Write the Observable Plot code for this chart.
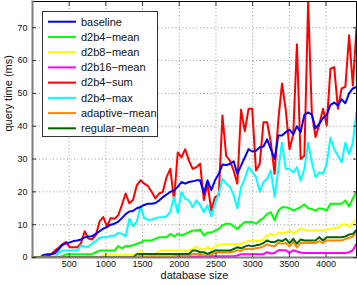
<!DOCTYPE html>
<html><head><meta charset="utf-8">
<script src="https://cdn.jsdelivr.net/npm/d3@7"></script>
<script src="https://cdn.jsdelivr.net/npm/@observablehq/plot@0.6"></script>
<style>html,body{margin:0;padding:0;background:#fff;}#chart{width:357px;height:285px;}</style>
</head><body><div id="chart"></div>
<script>
const sizes = [0,51,102,152,203,254,305,355,406,457,
508,558,609,660,711,761,812,863,914,964,
1015,1066,1117,1167,1218,1269,1320,1370,1421,1472,
1523,1573,1624,1675,1726,1776,1827,1878,1929,1979,
2030,2081,2132,2182,2233,2284,2335,2385,2436,2487,
2538,2588,2639,2690,2741,2791,2842,2893,2944,2994,
3045,3096,3147,3197,3248,3299,3350,3400,3451,3502,
3553,3603,3654,3705,3756,3806,3857,3908,3959,4009,
4060,4111,4162,4212,4263,4314,4365,4415];

const seriesNames = ["baseline","d2b4−mean","d2b8−mean","d2b16−mean","d2b4−sum","d2b4−max","adaptive−mean","regular−mean"];
const seriesColors = ["#0000ff","#00ff00","#ffff00","#ff00ff","#ff0000","#00ffff","#ff8800","#006400"];
const drawOrder = ["d2b4−sum","d2b4−max","baseline","d2b4−mean","d2b8−mean","d2b16−mean","adaptive−mean","regular−mean"];

const baseline = [0,0,0,0.8,1,1,1.3,2.5,3.8,4.3,
4.6,5,5.2,5.5,6.1,6.4,6.5,7.2,8,8.8,
9.3,10,10.3,10.9,12,13.2,14,14.2,15,15.4,
16,16.4,16.4,16.6,17.4,18.4,19.2,20,20.5,21.5,
23,22.5,23,23.2,23.5,23.5,19.6,23.5,20.5,23.5,
25.5,28.3,28.2,28.5,29.3,25.5,28,30.5,33,32.3,
32.5,33.6,33.8,36,33,30,37.2,37.2,38.2,39,
37.5,40,38.2,43.5,44.2,43.5,39.3,40.8,42.5,43.5,
46.5,47.2,46.3,48.2,47,50,51.5,52];

const d2b4Mean = [0,0,0,0,0,0,0,0,0.5,1,
1,1,1,1,1,1,1,1.6,2.1,2.1,
2.1,2.1,2.1,3.5,2.8,3.5,3.5,3.7,4.2,4.5,
5.2,5.2,5.2,5.7,6.2,6.2,6.2,7.2,6.4,7.2,
6.7,7.2,7.7,8.2,8.2,8.5,6.7,7.6,7.6,8.2,
8.7,9.8,10.3,10.3,9.5,8.7,9.8,10.8,10.8,10.8,
10.3,11.3,12,13.3,13.8,11.3,14.3,15.3,15.3,15,
14.3,14.8,15.3,16.2,15,14.8,14.3,15,14.8,14.3,
16.4,16.4,16.4,16.4,17.4,15.5,18,20];

const d2b8Mean = [0,0,0,0,0,0,0,0,0,0,
0,0,0,0,0,0,0,0,0.3,0.8,
0.8,0.8,0.8,0.8,0.8,0.8,0.8,0.8,1.1,2.1,
1.1,1.1,1.1,1.1,1.9,2.1,2.1,2.1,2.1,2.1,
2.1,2.1,2.1,2.8,3.3,2.6,2.4,3.3,2.4,3.3,
3.9,4,4,4,4,4,4.1,4.7,5,5,
5,5,5.5,6.8,7.2,6.7,7.5,7.5,7.7,8.2,
7.3,8,9,8.4,8.2,8.2,8.2,8.2,8.2,8.6,
8.7,8.9,9.2,10,10.1,9.3,10.5,11.4];

const d2b16Mean = [0,0,0,0,0,0,0,0,0,0,
0,0,0,0,0,0,0,0,0,0,
0,0,0,0,0,0,0,0,0,0,
0,0.2,0.2,0.2,0.2,0.2,0.2,0.2,0.2,0.5,
0.2,0.2,0.2,0.2,0.2,0.4,0,0.5,0.4,0.4,
0.4,0.4,0.4,0.4,0.4,0.6,1,1,1,1,
1,1,1,1.6,1.2,1.4,2.2,2.2,2.2,1.4,
2.2,1.8,1.5,1.4,1.4,1.4,1.4,1.4,1.4,1.4,
1.4,1.4,1.4,1.4,1.4,1.6,2.2,4.2];

const d2b4Sum = [0,0,0,0,0.5,1,2.1,3,4,4.8,
3.1,3.1,3.1,4.3,8,5.8,5.5,6.8,11,12.3,
9.5,12,11.8,12.8,16,19.5,16.5,17.5,22,23.5,
22.5,21.8,20,18,19.5,20,24.5,27,17.4,32,
30.5,33,29.5,27,27.5,28.6,17.5,22.5,14.3,18.4,
19,43.3,31,29.5,26.5,22.5,45,38.5,45.3,45.3,
26.5,28.5,41.2,41.2,35,25.5,42,53,45,33,
37.5,65,30,31,78,44,36.7,40.5,45.3,40.2,
57.5,58,45.3,51.5,52,67.7,52.4,70];

const d2b4Max = [0,0,0,0,0,0,0,1.5,2.1,2.1,
2.1,2.1,2.1,3.7,3.3,3.3,4.3,5,6,6.2,
6.2,6.6,6.6,7.5,7.2,6.5,11.8,9.5,11,15.5,
12,11.5,11.5,12,12.3,12.3,12.5,14,18.4,13.5,
19.9,17.9,17.4,15.3,17.4,15.9,13.8,15.9,12.5,16.5,
19.5,24,22.5,21.5,19,15,21.5,24,27.5,26,
24.5,20,23,24,26.5,18.4,27,35,27,27,
26,27.5,23.5,27,35,29,24.5,26,25.5,28.6,
36.5,33,31,29,35,31.5,35,44.3];

const adaptiveMean = [0,0,0,0,0,0,0,0,0,0,
0,0,0,0,0,0,0,0,0,0,
0,0,0,0,0,0,0,0,0,0.6,
0.3,0.3,0.3,0.3,0.3,0.3,0.3,0.3,0.3,0.6,
0.5,0.5,0.5,1.1,1.1,1,0.8,0.6,1,1.4,
1.5,1.5,1.5,1.5,1.8,2.2,2,2.6,2.6,2.6,
2.8,3,3.4,4,3.6,3.4,4.5,4.2,4.4,3.4,
4.8,3.1,4.5,4.4,4.4,4.4,4.4,5,4.4,5.2,
5.2,5.2,5.2,5.2,5.6,6,6.4,7.7];

const regularMean = [0,0,0,0,0,0,0,0,0,0,
0,0,0,0,0,0,0,0,0,0,
0,0,0,0,0,0,0,0,1,1.1,
1.1,1.1,1.1,1.1,1.1,1.1,1.1,1.1,1.1,1.1,
1.1,1.1,1.1,2.1,2.1,1.6,1.6,1.1,1.6,2.1,
2.1,2.1,2.1,2.1,2.6,3.1,2.8,3.3,3.7,3.4,
3.7,3.9,4.4,5.2,4.7,4.7,5.3,5,5.7,4.4,
5.7,4.2,5.5,5.2,5.2,5.2,5.2,6.2,5.2,6.2,
6.2,6.2,6.2,6.2,6.4,7,7.2,8.4];

const xTicks = [500,1000,1500,2000,2500,3000,3500,4000];
const yTicks = [0,10,20,30,40,50,60,70];
const xDomain = [0, 4415];
const yDomain = [0, 78];

const seriesValues = {
  "baseline": baseline, "d2b4−mean": d2b4Mean, "d2b8−mean": d2b8Mean, "d2b16−mean": d2b16Mean,
  "d2b4−sum": d2b4Sum, "d2b4−max": d2b4Max, "adaptive−mean": adaptiveMean, "regular−mean": regularMean
};
const data = drawOrder.flatMap(name => seriesValues[name].map((v, i) => ({size: sizes[i], time: v, series: name})));

const FONT = "'Liberation Sans', Arial, Helvetica, sans-serif";
const gridStyle = {stroke: "#9a9a9a", strokeOpacity: 1, strokeWidth: 1, strokeDasharray: "1,2.5"};
const noText = () => "";

const plot = Plot.plot({
  width: 357, height: 285,
  marginLeft: 32, marginRight: 1, marginTop: 1, marginBottom: 28,
  style: {fontFamily: FONT, fontSize: "9px", color: "#111", background: "#fff"},
  x: {domain: xDomain},
  y: {domain: yDomain},
  color: {domain: seriesNames, range: seriesColors},
  marks: [
    Plot.gridX(xTicks, gridStyle),
    Plot.gridY(yTicks.filter(t => t > 0), gridStyle),
    Plot.line(data, {x: "size", y: "time", z: "series", stroke: "series", strokeWidth: 2, clip: true}),
    Plot.frame({stroke: "#000", strokeWidth: 1}),
    Plot.frame({anchor: "left", stroke: "#7f7f7f", strokeWidth: 2}),
    Plot.frame({anchor: "bottom", stroke: "#7f7f7f", strokeWidth: 2}),
    Plot.axisX(xTicks, {anchor: "bottom", tickSize: 0, tickPadding: 3, tickFormat: d => String(d), label: null}),
    Plot.axisX(xTicks, {anchor: "bottom", tickSize: -4, tickFormat: noText, label: null, stroke: "#333"}),
    Plot.axisX(xTicks, {anchor: "top", tickSize: -4, tickFormat: noText, label: null, stroke: "#333"}),
    Plot.axisY(yTicks, {anchor: "left", tickSize: 0, tickPadding: 5, tickFormat: d => String(d), label: null}),
    Plot.axisY(yTicks, {anchor: "left", tickSize: -4, tickFormat: noText, label: null, stroke: "#333"}),
    Plot.axisY(yTicks, {anchor: "right", tickSize: -4, tickFormat: noText, label: null, stroke: "#333"}),
    Plot.text(["database size"], {text: d => d, frameAnchor: "bottom", dy: 21, fontSize: 11, fill: "#111"}),
    Plot.text(["query time (ms)"], {text: d => d, frameAnchor: "left", rotate: -90, dx: -24.5, dy: 2, fontSize: 11, fill: "#111"})
  ]
});

// legend box (inside the plot, upper left)
const colorScale = plot.scale("color");
const svg = d3.select(plot);
const lg = svg.append("g").attr("font-family", FONT).attr("font-size", 11).attr("fill", "#111").attr("text-anchor", "start");
lg.append("rect").attr("x", 42.5).attr("y", 11.5).attr("width", 115).attr("height", 125)
  .attr("fill", "#fff").attr("stroke", "#333").attr("stroke-width", 1);
seriesNames.forEach((name, k) => {
  const yy = 21.7 + 15.23 * k;
  lg.append("line").attr("x1", 48).attr("x2", 76).attr("y1", yy).attr("y2", yy)
    .attr("stroke", colorScale.apply(name)).attr("stroke-width", 2);
  lg.append("text").attr("x", 81).attr("y", yy).attr("dy", "0.35em").attr("text-anchor", "start").text(name);
});

document.getElementById("chart").appendChild(plot);
</script>
</body></html>
